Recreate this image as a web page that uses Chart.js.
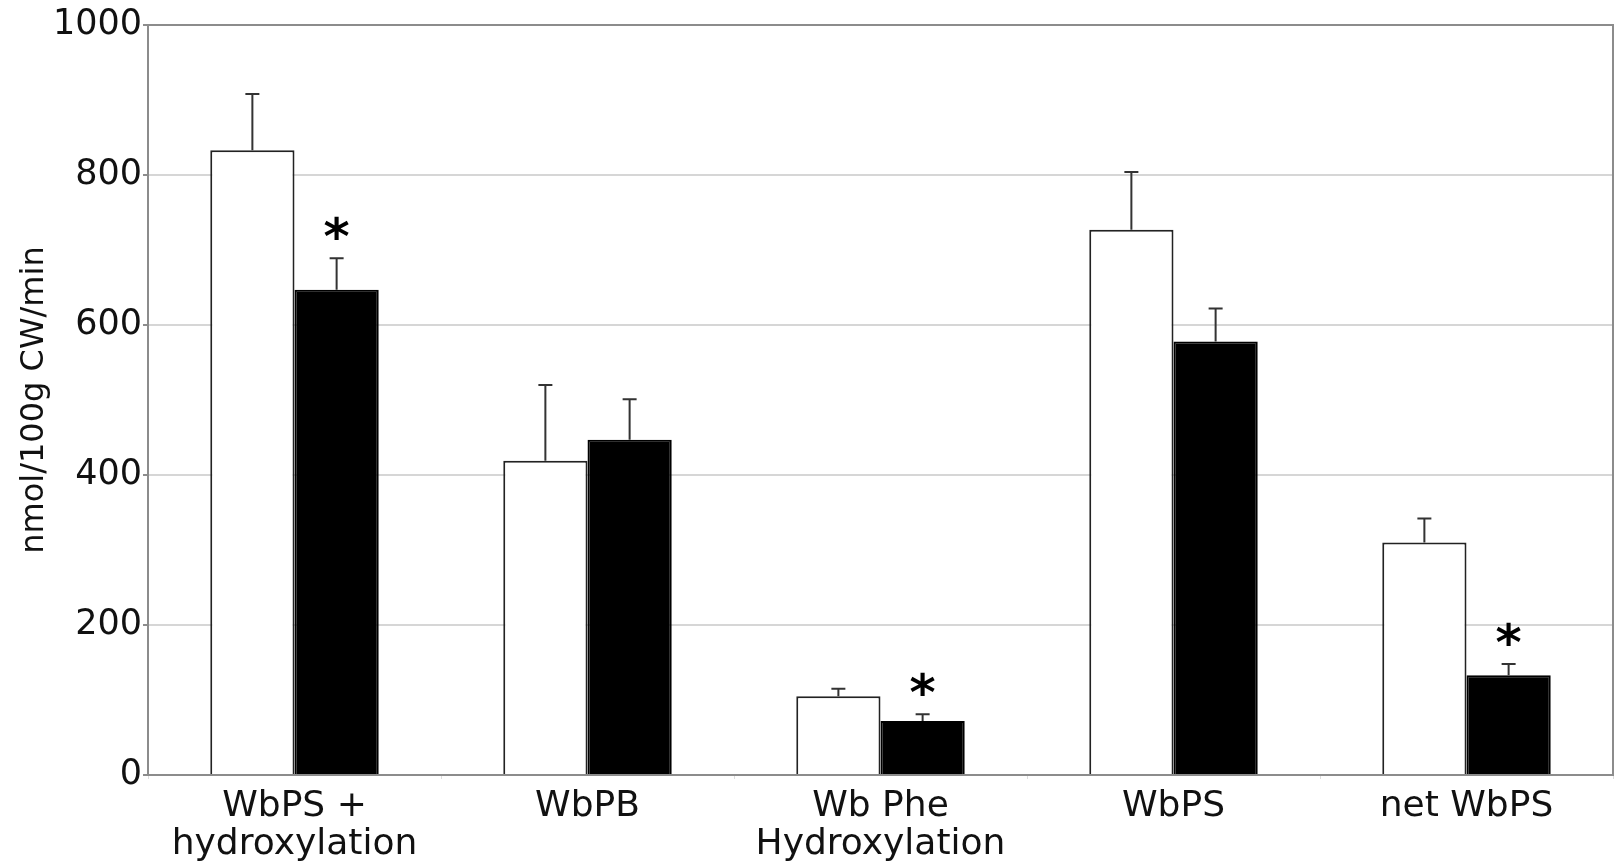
<!DOCTYPE html>
<html>
<head>
<meta charset="utf-8">
<script src="https://cdn.jsdelivr.net/npm/chart.js@4.4.1/dist/chart.umd.min.js"></script>
<style>
  html, body { margin: 0; padding: 0; background: #ffffff; }
  canvas { display: block; }
</style>
</head>
<body>
<canvas id="chart" width="1616" height="864"></canvas>
<script>
// Categories (multi-line labels as arrays)
const categories = [["WbPS +", "hydroxylation"], "WbPB", ["Wb Phe", "Hydroxylation"], "WbPS", "net WbPS"];

// Open bars: means and upper error (SD)
const openValues = [833, 419, 105, 727, 310];
const openErrors = [75, 101, 10, 77, 32];

// Filled bars: means and upper error (SD)
const filledValues = [647, 447, 72, 578, 133];
const filledErrors = [42, 54, 9, 44, 15];

// Significance marks shown above the filled bars
const filledSignificant = [true, false, true, false, true];

// Y axis ticks
const yTicks = [0, 200, 400, 600, 800, 1000];

const yTitle = "nmol/100g CW/min";

const FONT = '"DejaVu Sans", "Liberation Sans", Arial, sans-serif';
const AXIS_GREY = '#8c8c8c';
const GRID_GREY = '#d6d6d6';

// Draws the upward error whiskers and the significance asterisks
const errorBarPlugin = {
  id: 'errorBars',
  afterDatasetsDraw(chart) {
    const ctx = chart.ctx;
    const yScale = chart.scales.y;
    ctx.save();
    chart.data.datasets.forEach((ds, di) => {
      const meta = chart.getDatasetMeta(di);
      meta.data.forEach((bar, i) => {
        const v = ds.data[i];
        const err = ds.errors[i];
        const yTop = yScale.getPixelForValue(v + err);
        const yBar = yScale.getPixelForValue(v);
        ctx.strokeStyle = '#333333';
        ctx.lineWidth = 2;
        ctx.beginPath();
        ctx.moveTo(bar.x, yBar);
        ctx.lineTo(bar.x, yTop);
        ctx.moveTo(bar.x - 7, yTop);
        ctx.lineTo(bar.x + 7, yTop);
        ctx.stroke();
        if (ds.significant && ds.significant[i]) {
          ctx.fillStyle = '#000000';
          ctx.font = 'bold 50px ' + FONT;
          ctx.textAlign = 'center';
          ctx.textBaseline = 'alphabetic';
          const m = ctx.measureText('*');
          const off = (m.actualBoundingBoxAscent - m.actualBoundingBoxDescent) / 2;
          const cy = yTop - 30;
          ctx.fillText('*', bar.x, cy + off);
        }
      });
    });
    ctx.restore();
  }
};

// Frame around the plotting area
const framePlugin = {
  id: 'plotFrame',
  beforeDatasetsDraw(chart) {
    const { ctx, chartArea: a } = chart;
    ctx.save();
    ctx.strokeStyle = AXIS_GREY;
    ctx.lineWidth = 2;
    ctx.strokeRect(a.left, a.top, a.right - a.left, a.bottom - a.top);
    ctx.restore();
  }
};

new Chart(document.getElementById('chart'), {
  type: 'bar',
  data: {
    labels: categories,
    datasets: [
      {
        label: 'Open',
        data: openValues,
        errors: openErrors,
        backgroundColor: '#ffffff',
        borderColor: '#222222',
        borderWidth: 2,
        categoryPercentage: 0.575,
        barPercentage: 1.0
      },
      {
        label: 'Filled',
        data: filledValues,
        errors: filledErrors,
        significant: filledSignificant,
        backgroundColor: '#000000',
        borderColor: '#000000',
        borderWidth: 2,
        categoryPercentage: 0.575,
        barPercentage: 1.0
      }
    ]
  },
  options: {
    responsive: false,
    devicePixelRatio: 1,
    animation: false,
    layout: { padding: { top: 25, right: 3, left: 0, bottom: 0 } },
    plugins: {
      legend: { display: false },
      tooltip: { enabled: false }
    },
    scales: {
      x: {
        grid: {
          display: true,
          drawOnChartArea: false,
          drawTicks: true,
          tickLength: 4,
          tickColor: '#dddddd',
          offset: true
        },
        border: { display: true, color: AXIS_GREY, width: 2 },
        ticks: {
          color: '#111111',
          padding: 8,
          maxRotation: 0,
          autoSkip: false,
          font: { family: FONT, size: 36, lineHeight: 1.07 }
        },
        afterFit(scale) { scale.height = 89; }
      },
      y: {
        min: 0,
        max: 1000,
        afterBuildTicks(scale) { scale.ticks = yTicks.map(v => ({ value: v })); },
        grid: {
          color: (c) => (c.tick && (c.tick.value === 0 || c.tick.value === 1000)) ? AXIS_GREY : GRID_GREY,
          lineWidth: 2,
          tickLength: 5,
          tickColor: AXIS_GREY
        },
        border: { display: true, color: AXIS_GREY, width: 2 },
        ticks: {
          color: '#111111',
          padding: 1,
          font: { family: FONT, size: 35 },
          callback: (v) => String(v)
        },
        title: {
          display: true,
          text: yTitle,
          color: '#111111',
          padding: { top: 15, bottom: 0 },
          font: { family: FONT, size: 32 }
        },
        afterFit(scale) { scale.width = 148; }
      }
    }
  },
  plugins: [framePlugin, errorBarPlugin]
});
</script>
</body>
</html>
